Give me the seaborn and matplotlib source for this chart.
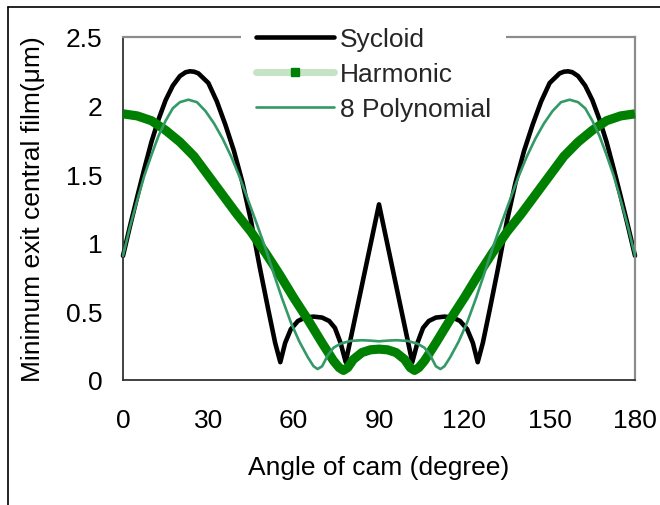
import numpy as np
import pandas as pd
import matplotlib
matplotlib.use("Agg")
import matplotlib.pyplot as plt
from matplotlib.lines import Line2D
import seaborn as sns

# ---- data ----
sycloid_angle = [0, 2.5, 5, 7.5, 10, 12.5, 15, 17.5, 20, 22, 23.5, 25, 26.5, 30, 33, 36, 39, 42, 45, 48, 51,
                 53.5, 55.3, 57, 59, 61.5, 64, 67, 70, 72.5, 74.5, 76.5, 78.3, 90,
                 101.7, 103.5, 105.5, 107.5, 110, 113, 116, 118.5, 121, 123, 124.7, 126.5, 129,
                 132, 135, 138, 141, 144, 147, 150, 153.5, 155, 156.5, 158, 160, 162.5, 165, 167.5, 170,
                 172.5, 175, 177.5, 180]
sycloid_film = [0.905, 1.125, 1.335, 1.54, 1.735, 1.90, 2.04, 2.145, 2.215, 2.243, 2.25, 2.247, 2.235, 2.165, 2.03,
                1.86, 1.67, 1.44, 1.16, 0.83, 0.52, 0.27, 0.13, 0.27, 0.37, 0.43, 0.455, 0.462,
                0.455, 0.43, 0.38, 0.27, 0.13, 1.28,
                0.13, 0.27, 0.38, 0.43, 0.455, 0.462, 0.455, 0.43, 0.37, 0.27, 0.13, 0.27, 0.52,
                0.83, 1.16, 1.44, 1.67, 1.86, 2.03, 2.165, 2.235, 2.247, 2.25, 2.243, 2.215, 2.145, 2.04, 1.90,
                1.735, 1.54, 1.335, 1.125, 0.905]

harmonic_angle = [0, 5, 10, 15, 20, 25, 30, 35, 40, 45, 50, 55, 60, 65, 70, 74, 76, 77.5, 79, 81, 84,
                  87, 90, 93, 96, 99, 101, 102.5, 104, 106, 110, 115, 120, 125, 130, 135, 140, 145,
                  150, 155, 160, 165, 170, 175, 180]
harmonic_film = [1.94, 1.925, 1.89, 1.82, 1.735, 1.63, 1.49, 1.35, 1.21, 1.08, 0.93, 0.77, 0.60, 0.44,
                 0.27, 0.14, 0.09, 0.07, 0.09, 0.15, 0.20, 0.22, 0.225, 0.22, 0.20, 0.15, 0.09, 0.07,
                 0.09, 0.14, 0.27, 0.44, 0.60, 0.77, 0.93, 1.08, 1.21, 1.35, 1.49, 1.63, 1.735,
                 1.82, 1.89, 1.925, 1.94]

poly_angle = [0, 2.5, 5, 7.5, 10, 12.5, 15, 17.5, 20, 23, 26, 29, 32, 35, 38, 41, 44, 47, 50, 53, 56,
              59, 62, 65, 67, 68.4, 70, 72, 74, 76.5, 80, 84, 87, 90,
              93, 96, 100, 103.5, 106, 108, 110, 111.6, 113, 115, 118, 121, 124, 127, 130, 133,
              136, 139, 142, 145, 148, 151, 154, 157, 160, 162.5, 165, 167.5, 170, 172.5, 175,
              177.5, 180]
poly_film = [0.905, 1.12, 1.31, 1.49, 1.64, 1.78, 1.89, 1.98, 2.025, 2.043, 2.025, 1.96, 1.87, 1.76,
             1.63, 1.48, 1.31, 1.14, 0.965, 0.775, 0.59, 0.42, 0.28, 0.165, 0.10, 0.08, 0.10, 0.18,
             0.235, 0.265, 0.285, 0.29, 0.287, 0.282,
             0.287, 0.29, 0.285, 0.265, 0.235, 0.18, 0.10, 0.08, 0.10, 0.165, 0.28, 0.42, 0.59,
             0.775, 0.965, 1.14, 1.31, 1.48, 1.63, 1.76, 1.87, 1.96, 2.025, 2.043, 2.025, 1.98,
             1.89, 1.78, 1.64, 1.49, 1.31, 1.12, 0.905]

series_names = ["Sycloid", "Harmonic", "8 Polynomial"]
x_ticks = [0, 30, 60, 90, 120, 150, 180]
y_ticks = [0, 0.5, 1, 1.5, 2, 2.5]
y_tick_labels = ["0", "0.5", "1", "1.5", "2", "2.5"]

# ---- styling ----
sns.set_theme(style="white")
plt.rcParams["font.family"] = ["Liberation Sans", "DejaVu Sans"]
FS = 19

fig = plt.figure(figsize=(6.6, 5.06), dpi=100)
ax = fig.add_axes([123 / 660, 1 - 381 / 506, 512 / 660, 343 / 506])

df_s = pd.DataFrame({"angle": sycloid_angle, "film": sycloid_film})
df_h = pd.DataFrame({"angle": harmonic_angle, "film": harmonic_film})
df_p = pd.DataFrame({"angle": poly_angle, "film": poly_film})

sns.lineplot(data=df_h, x="angle", y="film", ax=ax, color="#008000", linewidth=6.6,
             estimator=None, sort=False, solid_capstyle="butt", solid_joinstyle="round", clip_on=False, zorder=3)
sns.lineplot(data=df_p, x="angle", y="film", ax=ax, color="#339966", linewidth=1.9,
             estimator=None, sort=False, solid_joinstyle="round", clip_on=False, zorder=4)
sns.lineplot(data=df_s, x="angle", y="film", ax=ax, color="black", linewidth=3.3,
             estimator=None, sort=False, solid_joinstyle="round", clip_on=False, zorder=2)

ax.set_xlim(0, 180)
ax.set_ylim(0, 2.5)
ax.set_xticks(x_ticks)
ax.set_xticklabels([str(t) for t in x_ticks])
ax.set_yticks(y_ticks)
ax.set_yticklabels(y_tick_labels)
ax.tick_params(axis="both", labelsize=FS, colors="black", direction="out", length=6, width=1.2)
ax.tick_params(axis="x", pad=14)
ax.tick_params(axis="y", pad=9)
ax.grid(False)

for side in ["left", "bottom"]:
    ax.spines[side].set_color("#333333")
    ax.spines[side].set_linewidth(1.3)
for side in ["top", "right"]:
    ax.spines[side].set_color("#8c8c8c")
    ax.spines[side].set_linewidth(1.6)

ax.set_xlabel("Angle of cam (degree)", fontsize=FS, labelpad=17, color="black")
ax.set_ylabel("Minimum exit central film(\u03bcm)", fontsize=FS, labelpad=15, color="black")

handles = [
    Line2D([], [], color="black", linewidth=3.3),
    Line2D([], [], color="#c5e3c5", linewidth=5, marker="s", markersize=5.5,
           markerfacecolor="#008000", markeredgecolor="#008000"),
    Line2D([], [], color="#339966", linewidth=1.9),
]
leg = ax.legend(handles, series_names, loc="center", bbox_to_anchor=(373.5 / 660, 1 - 75 / 506),
                bbox_transform=fig.transFigure, fontsize=FS, frameon=True, fancybox=False,
                handlelength=2.95, handletextpad=0.25, labelspacing=0.42, borderpad=0.55,
                numpoints=1)
leg.get_frame().set_facecolor("white")
leg.get_frame().set_edgecolor("none")
leg.get_frame().set_alpha(1)
leg.set_zorder(10)

# outer chart border (top and left edges visible in reference)
fig.add_artist(Line2D([8 / 660, 8 / 660], [0, 1 - 8 / 506], transform=fig.transFigure,
                      color="black", linewidth=1.2))
fig.add_artist(Line2D([8 / 660, 1], [1 - 8 / 506, 1 - 8 / 506], transform=fig.transFigure,
                      color="black", linewidth=1.2))

fig.savefig("out.png", dpi=100, facecolor="white")
